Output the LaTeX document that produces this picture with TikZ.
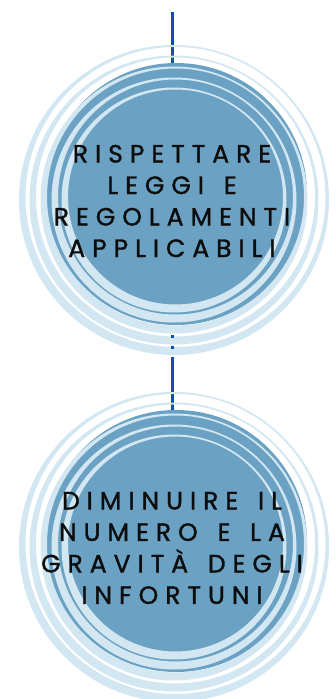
\documentclass[tikz,border=0pt]{standalone}
\usepackage{fontspec}
\setmainfont{Poppins}
\newfontfamily\disksans{Poppins}[LetterSpace=28,FakeBold=1.3,WordSpace=1.45]
\definecolor{ringlight}{HTML}{D3E7F3}
\definecolor{diskblue}{HTML}{6BA2C3}
\definecolor{linkblue}{HTML}{0A4FB4}
\definecolor{inkblack}{HTML}{0D0D0D}
\tikzset{
  ringband/.style={fill=ringlight, even odd rule},
  disk/.style={circle, fill=diskblue, minimum size=262pt, inner sep=0pt},
  link/.style={draw=linkblue, line width=3pt},
  disktext/.style={font=\disksans\fontsize{25}{31.5}\selectfont, text=inkblack, align=center, inner sep=0pt}
}
\newcommand{\ringset}[1]{%
  \foreach \R [evaluate=\R as \Rh using \R-5] in {155,144.5,133.5,122.5,112.5}{
    \fill[ringband] (174,#1) circle (\R pt) (175.5,#1-3) circle (\Rh pt);
  }%
}
\begin{document}
\begin{tikzpicture}[x=1pt,y=-1pt]
\useasboundingbox (0,0) rectangle (336,699);
% first circle
\node[disk] (d1) at (176,194) {};
\coordinate (top) at (172,12);
\draw[link] (top) -- (top |- d1.north);
\ringset{200}
\node[disktext] (t1) at (172,201) {RISPETTARE\\LEGGI E\\REGOLAMENTI\\APPLICABILI};
% second circle
\node[disk] (d2) at (176,541) {};
\coordinate (mid) at (172,335);
\draw[link, dash pattern=on 3pt off 8pt on 3pt off 8pt on 100pt] (mid) -- (mid |- d2.north);
\ringset{547}
\node[disktext] (t2) at (172,548) {DIMINUIRE IL\\NUMERO E LA\\GRAVITÀ DEGLI\\INFORTUNI};
\end{tikzpicture}
\end{document}
